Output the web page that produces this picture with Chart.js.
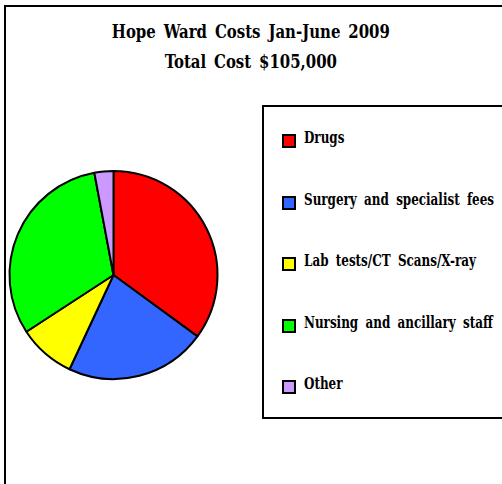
<!DOCTYPE html>
<html>
<head>
<meta charset="utf-8">
<script src="https://cdn.jsdelivr.net/npm/chart.js@4.4.1/dist/chart.umd.min.js"></script>
<style>
  body { margin: 0; width: 502px; height: 484px; overflow: hidden; background: #fff; position: relative; }
  #frame { position: absolute; left: 4px; top: 5px; width: 700px; height: 700px; border: 2px solid #000; }
  #title { position: absolute; left: 0; width: 502px; top: 17px; text-align: center;
    font-family: "DejaVu Serif Condensed", "DejaVu Serif"; font-stretch: condensed; font-weight: bold;
    font-size: 18px; line-height: 30px; word-spacing: 3px; color: #000; transform-origin: 249px 0; }
  #legend { position: absolute; left: 262px; top: 105px; width: 300px; height: 310px; border: 2px solid #000; }
  .item { position: absolute; left: 18px; height: 20px; white-space: nowrap; }
  .swatch { position: absolute; left: 0; top: 3px; width: 10px; height: 10px; border: 2px solid #000; }
  .lbl { position: absolute; left: 22px; top: -4px; font-family: "DejaVu Serif Condensed", "DejaVu Serif";
    font-stretch: condensed; font-weight: bold; font-size: 17px; color: #000; transform-origin: left center; word-spacing: 4px; }
  canvas { position: absolute; left: 0; top: 0; }
</style>
</head>
<body>
<div id="frame"></div>
<div id="title"><span id="t1">Hope Ward Costs Jan-June 2009</span><br><span>Total Cost $105,000</span></div>
<div id="legend"></div>
<canvas id="pie" width="502" height="484"></canvas>
<script>
let categories = ["Drugs", "Surgery and specialist fees", "Lab tests/CT Scans/X-ray", "Nursing and ancillary staff", "Other"];
let costs = [36800, 23000, 9300, 32800, 3100];
let colours = ["#FF0000", "#3366FF", "#FFFF00", "#00FF00", "#CC99FF"];

let ctx = document.getElementById("pie").getContext("2d");
let pieChart = new Chart(ctx, {
  type: 'pie',
  data: {
    labels: categories,
    datasets: [{
      data: costs,
      backgroundColor: colours,
      borderColor: "#000",
      borderWidth: 2
    }]
  },
  options: {
    responsive: false,
    animation: false,
    layout: { padding: { left: 8, top: 170, right: 283, bottom: 104 } },
    plugins: {
      legend: { display: false },
      tooltip: { enabled: false }
    }
  }
});

// html legend from the chart's own labels
let legend = document.getElementById("legend");
let items = pieChart.options.plugins.legend.labels.generateLabels(pieChart);
items.forEach(function (it, i) {
  let row = document.createElement("div");
  row.className = "item";
  row.style.top = (24 + i * 61.5) + "px";
  let sw = document.createElement("div");
  sw.className = "swatch";
  sw.style.background = it.fillStyle;
  let lbl = document.createElement("span");
  lbl.className = "lbl";
  lbl.textContent = it.text;
  row.appendChild(sw);
  row.appendChild(lbl);
  legend.appendChild(row);
});
// squeeze text to the narrow face of the original
let wide = document.querySelectorAll(".lbl")[1];
let k = 190 / wide.getBoundingClientRect().width;
document.querySelectorAll(".lbl").forEach(function (l) { l.style.transform = "scaleX(" + k + ")"; });
let t1 = document.getElementById("t1");
let kt = 278 / t1.getBoundingClientRect().width;
document.getElementById("title").style.transform = "scaleX(" + kt + ")";
</script>
</body>
</html>
